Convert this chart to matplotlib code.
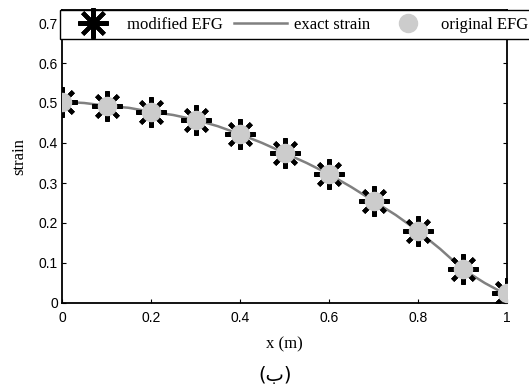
import numpy as np
import matplotlib
matplotlib.use('Agg')
import matplotlib.pyplot as plt

# nodal values
x_nodes = [0.0, 0.1, 0.2, 0.3, 0.4, 0.5, 0.6, 0.7, 0.8, 0.9, 1.0]
modified_efg = [0.503, 0.493, 0.478, 0.458, 0.422, 0.375, 0.322, 0.255, 0.180, 0.085, 0.025]
original_efg = [0.503, 0.493, 0.478, 0.458, 0.422, 0.375, 0.322, 0.255, 0.180, 0.085, 0.025]

# exact strain curve
x_exact = [0.0, 0.05, 0.1, 0.15, 0.2, 0.25, 0.3, 0.35, 0.4, 0.45, 0.5,
           0.55, 0.6, 0.65, 0.7, 0.75, 0.8, 0.85, 0.9, 0.95, 1.0]
exact_strain = [0.503, 0.500, 0.493, 0.488, 0.478, 0.470, 0.458, 0.442, 0.422, 0.400, 0.375,
                0.350, 0.322, 0.290, 0.255, 0.220, 0.180, 0.135, 0.085, 0.050, 0.020]

xticks = [0, 0.2, 0.4, 0.6, 0.8, 1]
yticks = [0, 0.1, 0.2, 0.3, 0.4, 0.5, 0.6, 0.7]

fig = plt.figure(figsize=(5.29, 3.91), dpi=100)
ax = fig.add_axes([62 / 529, 88 / 391, 445 / 529, 293 / 391])

ax.plot(x_exact, exact_strain, color='#808080', lw=1.8, zorder=2, label='exact strain')
ax.plot(x_nodes, modified_efg, ls='none', marker=(8, 2, 0), ms=22, mew=3.0,
        color='black', zorder=3, label='modified EFG')
ax.plot(x_nodes, original_efg, ls='none', marker='o', ms=13, mfc='#cccccc',
        mec='#cccccc', zorder=4, label='original EFG')

ax.set_xlim(0, 1)
ax.set_ylim(0, 0.7325)
ax.set_xticks(xticks)
ax.set_xticklabels(['0', '0.2', '0.4', '0.6', '0.8', '1'])
ax.set_yticks(yticks)
ax.set_yticklabels(['0', '0.1', '0.2', '0.3', '0.4', '0.5', '0.6', '0.7'])
ax.tick_params(direction='in', length=3, labelsize=10, right=True, top=False, pad=3)
ax.tick_params(axis='x', pad=6)
for lab in ax.get_xticklabels() + ax.get_yticklabels():
    lab.set_family('Liberation Sans')
for s in ax.spines.values():
    s.set_linewidth(1.3)

ax.set_xlabel('x (m)', family='Liberation Serif', fontsize=12, labelpad=8)
ax.set_ylabel('strain', family='Liberation Serif', fontsize=12, labelpad=8)

handles, labels = ax.get_legend_handles_labels()
order = [1, 0, 2]
leg = fig.legend([handles[i] for i in order], [labels[i] for i in order],
                 loc='upper left', bbox_to_anchor=(60 / 529, 1 - 10 / 391),
                 ncol=3, frameon=True, fancybox=False,
                 prop={'family': 'Liberation Serif', 'size': 12},
                 borderaxespad=0, handlelength=3.2, handletextpad=0.42,
                 columnspacing=0.65, borderpad=0.4, framealpha=1)
leg.get_frame().set_edgecolor('black')
leg.get_frame().set_linewidth(1.0)

fig.text(0.52, 0.04, '(ب)', ha='center', va='center', fontsize=14,
         family=['DejaVu Sans'])

plt.savefig('out.png', dpi=100)
